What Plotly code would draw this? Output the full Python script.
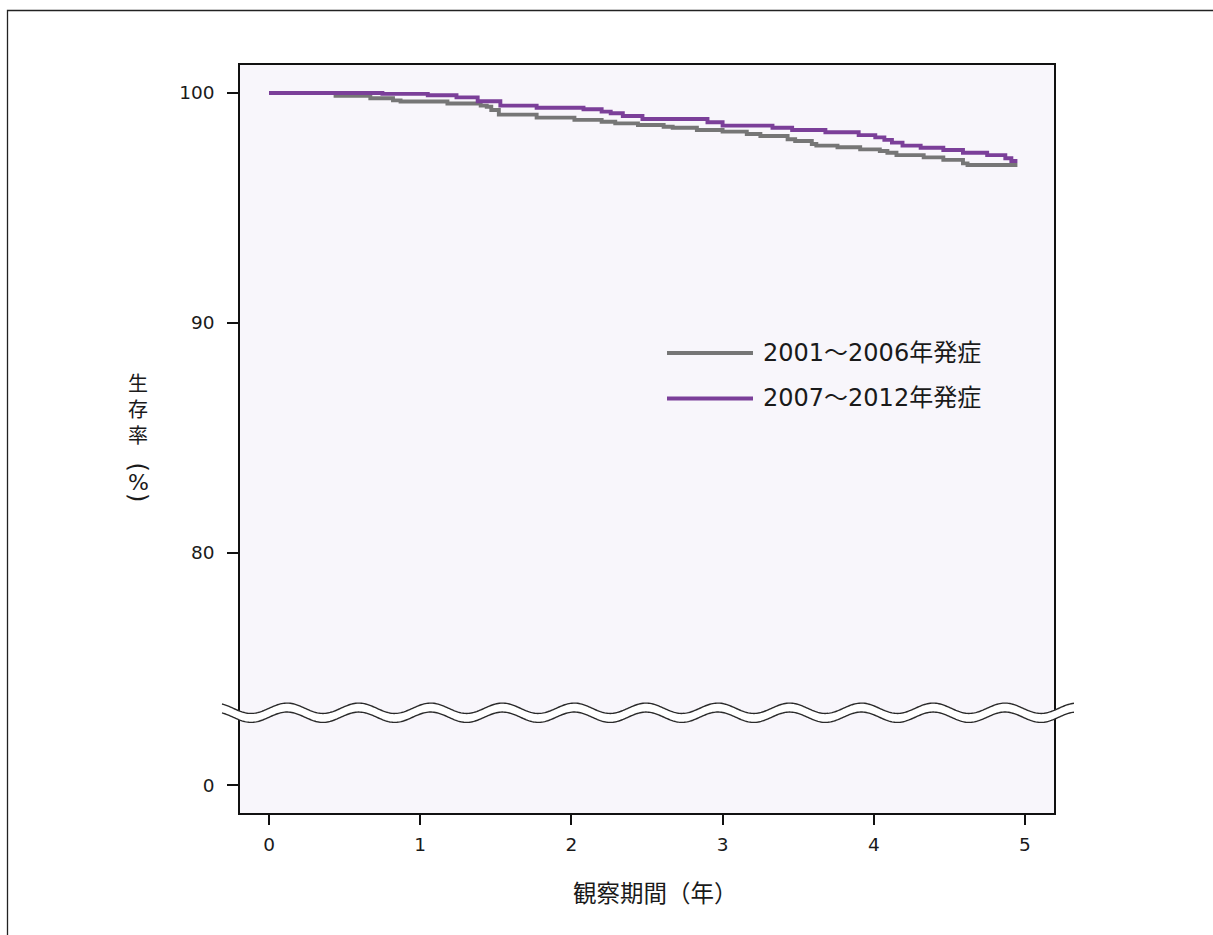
import numpy as np
import plotly.graph_objects as go

# ---------------- data ----------------
gray_name = "2001～2006年発症"
gray_t = [0, 0.44, 0.67, 0.82, 0.87, 1.18, 1.40, 1.44, 1.47, 1.52, 1.77, 2.02, 2.20, 2.29, 2.44,
          2.61, 2.67, 2.83, 3.00, 3.16, 3.25, 3.43, 3.48, 3.59, 3.62, 3.76, 3.91, 4.04, 4.09,
          4.15, 4.33, 4.46, 4.59, 4.62, 4.95]
gray_s = [100, 99.88, 99.77, 99.68, 99.63, 99.54, 99.45, 99.40, 99.26, 99.06, 98.93, 98.83, 98.75,
          98.68, 98.61, 98.53, 98.49, 98.39, 98.32, 98.22, 98.13, 97.99, 97.91, 97.78, 97.71,
          97.64, 97.55, 97.48, 97.40, 97.30, 97.20, 97.09, 96.94, 96.87, 96.87]

purple_name = "2007～2012年発症"
purple_t = [0, 0.75, 1.05, 1.24, 1.38, 1.53, 1.77, 2.08, 2.20, 2.26, 2.34, 2.47, 2.90, 3.00, 3.33,
            3.46, 3.68, 3.90, 4.01, 4.07, 4.12, 4.19, 4.31, 4.46, 4.59, 4.75, 4.87, 4.91, 4.95]
purple_s = [100, 99.96, 99.90, 99.81, 99.64, 99.45, 99.36, 99.29, 99.19, 99.12, 99.00, 98.87, 98.73,
            98.58, 98.49, 98.39, 98.29, 98.17, 98.07, 97.96, 97.84, 97.71, 97.62, 97.52, 97.40,
            97.30, 97.16, 97.04, 97.04]

x_tickvals = [0, 1, 2, 3, 4, 5]
x_ticktext = ["0", "1", "2", "3", "4", "5"]
y_tickvals = [69.91, 80, 90, 100]        # axis is broken: "0" drawn below the break
y_ticktext = ["0", "80", "90", "100"]

x_title = "観察期間（年）"
y_title_main = "生<br>存<br>率"
y_title_unit = ["(", "%", ")"]

# ---------------- style ----------------
FONT = "DejaVu Sans, Noto Sans CJK JP"
CJK = "Noto Sans CJK JP"
TXT = "#1a1a1a"
GRAY = "#767676"
PURPLE = "#7b3f99"
BG = "#f8f6fb"
XR = [-0.192, 5.192]
YR = [68.696, 101.217]
W, H = 1213, 935
ML, MR, MT, MB = 240, 159, 65, 122
PW, PH = W - ML - MR, H - MT - MB


def px_to_paper(px, py):
    return (px - ML) / PW, (H - MB - py) / PH


def data_to_paper(t, s):
    return (np.asarray(t) - XR[0]) / (XR[1] - XR[0]), (np.asarray(s) - YR[0]) / (YR[1] - YR[0])


fig = go.Figure()
fig.add_trace(go.Scatter(x=gray_t, y=gray_s, mode="lines", line=dict(color=GRAY, width=3.9, shape="hv"),
                         name=gray_name, showlegend=False))
fig.add_trace(go.Scatter(x=purple_t, y=purple_s, mode="lines", line=dict(color=PURPLE, width=3.9, shape="hv"),
                         name=purple_name, showlegend=False))

shapes = []
annotations = []

# outer frame (only top and left visible)
fx0, fy0 = px_to_paper(7.5, 10.5)
fx1, fy1 = px_to_paper(1400, 1100)
shapes.append(dict(type="rect", xref="paper", yref="paper", x0=fx0, y0=fy1, x1=fx1, y1=fy0,
                   line=dict(color="#222222", width=1.3), fillcolor="rgba(0,0,0,0)", layer="below"))

# axis break decoration (double wavy line)
wt = np.linspace(-0.311, 5.324, 600)
period, crest = 0.4749, 0.119
wave = 0.225 * np.cos(2 * np.pi * (wt - crest) / period)
upper = 73.25 + wave
lower = 72.86 + wave
ux, uy = data_to_paper(wt, upper)
lx, ly = data_to_paper(wt, lower)


def path_of(xs, ys, close=False):
    p = "M " + " L ".join(f"{a:.5f},{b:.5f}" for a, b in zip(xs, ys))
    return p + (" Z" if close else "")


shapes.append(dict(type="path", xref="paper", yref="paper",
                   path=path_of(np.concatenate([ux, lx[::-1]]), np.concatenate([uy, ly[::-1]]), True),
                   fillcolor="white", line=dict(width=0), layer="above"))
for xs, ys in ((ux, uy), (lx, ly)):
    shapes.append(dict(type="path", xref="paper", yref="paper", path=path_of(xs, ys),
                       line=dict(color="#2a2a2a", width=1.4), layer="above"))

# legend drawn manually (long line keys)
for name, col, py in ((gray_name, GRAY, 353), (purple_name, PURPLE, 398.5)):
    a0, b0 = px_to_paper(667, py)
    a1, _ = px_to_paper(753, py)
    shapes.append(dict(type="line", xref="paper", yref="paper", x0=a0, x1=a1, y0=b0, y1=b0,
                       line=dict(color=col, width=3.9)))
    tx, _ = px_to_paper(761, py)
    annotations.append(dict(xref="paper", yref="paper", x=tx, y=b0, text=name, showarrow=False,
                            xanchor="left", yanchor="middle", font=dict(family=FONT, size=24, color=TXT)))

# y title: upright characters stacked vertically, parentheses turned
a, b = px_to_paper(138, 409)
annotations.append(dict(xref="paper", yref="paper", x=a, y=b, text=y_title_main, showarrow=False,
                        xanchor="center", yanchor="middle", font=dict(family=CJK, size=20, color=TXT)))
for ch, py in zip(y_title_unit, (466.5, 482.5, 497)):
    a, b = px_to_paper(138, py)
    is_paren = ch in "()"
    annotations.append(dict(xref="paper", yref="paper", x=a, y=b, text=ch, showarrow=False,
                            textangle=90 if is_paren else 0,
                            xanchor="center", yanchor="middle",
                            font=dict(family=FONT, size=24 if is_paren else 22, color=TXT)))

# x title
a, b = px_to_paper(655, 892)
annotations.append(dict(xref="paper", yref="paper", x=a, y=b, text=x_title, showarrow=False,
                        xanchor="center", yanchor="middle", font=dict(family=CJK, size=23.5, color=TXT)))

fig.update_layout(
    width=W, height=H,
    margin=dict(l=ML, r=MR, t=MT, b=MB),
    paper_bgcolor="white", plot_bgcolor=BG,
    font=dict(family=FONT, color=TXT),
    shapes=shapes, annotations=annotations, showlegend=False,
)
fig.update_xaxes(range=XR, tickvals=x_tickvals, ticktext=x_ticktext, ticks="outside", ticklen=10,
                 tickwidth=1.5, tickcolor="#111", showline=True, linecolor="#111", linewidth=1.6,
                 mirror=True, showgrid=False, zeroline=False, tickfont=dict(family=FONT, size=18.5, color=TXT),
                 ticklabelstandoff=4)
fig.update_yaxes(range=YR, tickvals=y_tickvals, ticktext=y_ticktext, ticks="outside", ticklen=11,
                 tickwidth=1.5, tickcolor="#111", showline=True, linecolor="#111", linewidth=1.6,
                 mirror=True, showgrid=False, zeroline=False, tickfont=dict(family=FONT, size=18.5, color=TXT),
                 ticklabelstandoff=9)

fig.write_html("out.html", config={"displayModeBar": False},
               post_script="document.body.style.margin='0';document.body.style.overflow='hidden';")
